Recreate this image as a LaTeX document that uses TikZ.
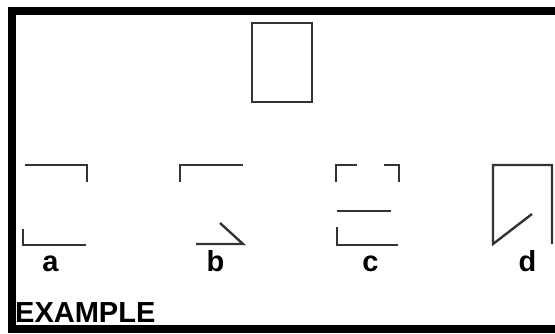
\documentclass[tikz,border=0pt]{standalone}
\usepackage{fontspec}
\setmainfont{Liberation Sans}
\tikzset{%
    figline/.style={line width=2.4pt, draw=black!80, line join=miter},
    optlabel/.style={font=\bfseries\fontsize{29}{29}\selectfont,
        inner sep=0, anchor=base}
}

\begin{document}
\begin{tikzpicture}[x=1pt, y=-1pt]

    \useasboundingbox (0, 0) rectangle (555, 333);
    \clip (0, 0) rectangle (555, 333);

    % Frame
    \draw[line width=8pt] (565, 11) -- (12, 11) -- (12, 329) -- (565, 329);

    % Target figure
    \draw[figline] (252, 23) rectangle (312, 102);

    % Option a
    \draw[figline] (25, 165) -- (87, 165) -- (87, 182);
    \draw[figline] (23, 229) -- (23, 245) -- (86, 245);

    % Option b
    \draw[figline] (180, 182) -- (180, 165) -- (243, 165);
    \draw[figline] (196, 244) -- (243, 244) -- (220, 223);

    % Option c
    \draw[figline] (336, 182) -- (336, 165) -- (357, 165);
    \draw[figline] (384, 165) -- (399, 165) -- (399, 182);
    \draw[figline] (337, 211) -- (391, 211);
    \draw[figline] (337, 227) -- (337, 245) -- (398, 245);

    % Option d
    \draw[figline] (532, 214) -- (493, 244) -- (493, 165) -- (552, 165)
        -- (552, 244);

    % Labels
    \node[optlabel] (a) at (50.5, 271) {a};
    \node[optlabel] (b) at (215.5, 271) {b};
    \node[optlabel] (c) at (370.5, 271) {c};
    \node[optlabel] (d) at (527.5, 271) {d};

    \node[optlabel, anchor=base west] (example) at (15, 322) {EXAMPLE};

\end{tikzpicture}
\end{document}
